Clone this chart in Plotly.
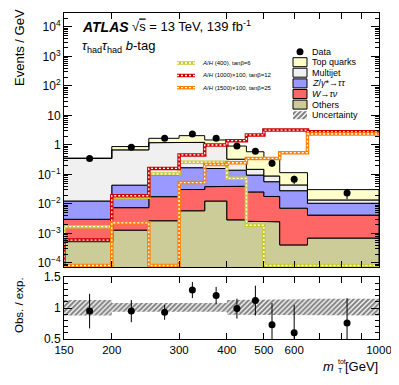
import numpy as np
import plotly.graph_objects as go

# window size and the page's default 8px body margin
W, H = 399, 385
OX, OY = 8, 8
FW, FH = W - OX, H - OY

# bin edges of m_T^tot [GeV]
edges = [150, 200, 250, 300, 350, 400, 450, 500, 550, 650, 1000]

# background predictions, events / GeV (stacked bottom -> top)
others = [5.3e-4, 1.3e-3, 2.7e-3, 5.9e-3, 1.26e-2, 2.9e-3, 2.6e-3, 2.5e-3, 4.1e-4, 7.0e-4]
w_taunu = [2.5e-3, 6.2e-3, 1.5e-2, 2.5e-2, 2.6e-2, 3.7e-2, 2.3e-2, 1.55e-2, 6.8e-3, 3.5e-3]
z_tautau = [9.6e-3, 3.6e-2, 7.8e-2, 0.139, 0.121, 0.10, 0.070, 0.039, 0.021, 0.0064]
multijet = [0.337, 0.64, 1.10, 1.06, 0.84, 0.19, 0.054, 0.032, 0.016, 0.0031]
top_quarks = [0.008, 0.20, 0.49, 0.84, 0.48, 0.59, 0.44, 0.24, 0.071, 0.017]

# signal hypotheses (0 = below the plotted range)
sig_400 = [1.7e-3, 1.7e-2, 0.104, 0.26, 0.26, 0.074, 1.9e-3, 0, 0, 0]
sig_1000 = [6.0e-4, 1.9e-2, 0.16, 0.46, 1.0, 1.4, 2.2, 3.2, 3.2, 2.8]
sig_1500 = [0, 2.3e-3, 0, 0.053, 0.22, 0.25, 0.35, 0.35, 0.55, 2.36]

# data
data = [0.35, 0.84, 1.69, 2.36, 1.69, 0.92, 0.61, 0.24, 0.069, 0.0236]
data_err = [0.06, 0.08, 0.12, 0.15, 0.13, 0.10, 0.09, 0.06, 0.022, 0.009]

# ratio panel
ratio = [0.95, 0.95, 0.93, 1.29, 1.20, 0.99, 1.12, 0.73, 0.60, 0.76]
ratio_err = [0.28, 0.18, 0.12, 0.13, 0.14, 0.16, 0.24, 0.35, 0.45, 0.40]
unc_up = [0.13, 0.08, 0.08, 0.08, 0.08, 0.13, 0.13, 0.14, 0.14, 0.15]
unc_dn = [0.12, 0.06, 0.06, 0.06, 0.06, 0.11, 0.11, 0.11, 0.11, 0.12]

FONT = "Liberation Sans, Arial, Helvetica, sans-serif"
YLOG = [-4.136, 4.464]
ylow = 10 ** (YLOG[0] + 0.05)
HATCH = dict(shape="/", fgcolor="black", bgcolor="white", size=3.5, solidity=0.6)


def steps(vals):
    xs, ys = [], []
    for i, v in enumerate(vals):
        xs += [edges[i], edges[i + 1]]
        ys += [v, v]
    return xs, ys


# screen pixel -> paper coordinates
def px(x):
    return (x - OX) / FW


def py(y):
    return 1 - (y - OY) / FH


fig = go.Figure()

# stacked backgrounds as filled step polygons
stack = [
    (others, "#cccc99"),
    (w_taunu, "#ff6666"),
    (z_tautau, "#9999ff"),
    (multijet, "#f0f0f0"),
    (top_quarks, "#ffffcc"),
]
lower = np.full(len(data), 1e-6)
for vals, col in stack:
    upper = np.where(lower < 1e-5, 0, lower) + np.array(vals)
    xs, yu = steps(upper)
    _, yl = steps(lower)
    fig.add_trace(go.Scatter(x=xs + xs[::-1], y=yu + yl[::-1], fill="toself",
                             fillcolor=col, mode="lines",
                             line=dict(color="black", width=1),
                             xaxis="x", yaxis="y", showlegend=False, hoverinfo="skip"))
    lower = upper

# signal overlays (thick coloured line with white dots)
signals = [(sig_400, "#c8c832"), (sig_1000, "#cc0000"), (sig_1500, "#ff7f00")]
for vals, col in signals:
    v = np.maximum(np.array(vals, dtype=float), ylow)
    xs, ys = steps(v)
    xs = [edges[0]] + xs
    ys = [ylow] + ys
    fig.add_trace(go.Scatter(x=xs, y=ys, mode="lines", line=dict(color=col, width=3.5),
                             xaxis="x", yaxis="y", showlegend=False, hoverinfo="skip"))
    fig.add_trace(go.Scatter(x=xs, y=ys, mode="lines",
                             line=dict(color="white", width=1.3, dash="2px,2px"),
                             xaxis="x", yaxis="y", showlegend=False, hoverinfo="skip"))

centres = [(edges[i] + edges[i + 1]) / 2 for i in range(len(data))]

fig.add_trace(go.Scatter(x=centres, y=data, mode="markers",
                         marker=dict(color="black", size=7),
                         error_y=dict(type="data", array=data_err, color="black",
                                      thickness=1, width=0),
                         xaxis="x", yaxis="y", showlegend=False))

# ratio panel: hatched uncertainty band
up = [1 + u for u in unc_up]
dn = [1 - d for d in unc_dn]
xs, yu = steps(up)
_, yd = steps(dn)
fig.add_trace(go.Scatter(x=xs + xs[::-1], y=yu + yd[::-1], fill="toself",
                         fillcolor="rgba(0,0,0,0)", mode="lines", line=dict(width=0),
                         fillpattern=HATCH,
                         xaxis="x2", yaxis="y2", showlegend=False, hoverinfo="skip"))
fig.add_trace(go.Scatter(x=centres, y=ratio, mode="markers",
                         marker=dict(color="black", size=7),
                         error_y=dict(type="data", array=ratio_err, color="black",
                                      thickness=1, width=0),
                         xaxis="x2", yaxis="y2", showlegend=False))

# ---- hand-drawn legend on a pixel overlay axis ----
legend_y = [51.7, 62.2, 72.7, 83.4, 94.0, 104.6, 115.2]
legend_txt = ["Data", "Top quarks", "Multijet",
              "<i>Z</i>/<i>γ</i>*→<i>ττ</i>", "<i>W</i>→<i>τν</i>", "Others", "Uncertainty"]
box_cols = [None, "#ffffcc", "#f0f0f0", "#9999ff", "#ff6666", "#cccc99", "hatch"]
bx0, bx1 = 293, 307
for yy, col in zip(legend_y, box_cols):
    if col is None:
        fig.add_trace(go.Scatter(x=[(bx0 + bx1) / 2], y=[yy], mode="markers",
                                 marker=dict(color="black", size=7),
                                 xaxis="x3", yaxis="y3", showlegend=False, hoverinfo="skip"))
    elif col == "hatch":
        fig.add_trace(go.Scatter(x=[bx0, bx1, bx1, bx0, bx0],
                                 y=[yy - 4, yy - 4, yy + 4, yy + 4, yy - 4],
                                 fill="toself", fillcolor="rgba(0,0,0,0)", mode="lines",
                                 line=dict(width=0), fillpattern=HATCH,
                                 xaxis="x3", yaxis="y3", showlegend=False, hoverinfo="skip"))
    else:
        fig.add_trace(go.Scatter(x=[bx0, bx1, bx1, bx0, bx0],
                                 y=[yy - 4.5, yy - 4.5, yy + 4.5, yy + 4.5, yy - 4.5],
                                 fill="toself", fillcolor=col, mode="lines",
                                 line=dict(color="black", width=1),
                                 xaxis="x3", yaxis="y3", showlegend=False, hoverinfo="skip"))

sig_legend_y = [63.0, 75.5, 87.7]
sig_txt = ["<i>A</i>/<i>H</i> (400), tanβ=6",
           "<i>A</i>/<i>H</i> (1000)×100, tanβ=12",
           "<i>A</i>/<i>H</i> (1500)×100, tanβ=25"]
for yy, (vals, col) in zip(sig_legend_y, signals):
    fig.add_trace(go.Scatter(x=[177, 195], y=[yy, yy], mode="lines",
                             line=dict(color=col, width=3.5),
                             xaxis="x3", yaxis="y3", showlegend=False, hoverinfo="skip"))
    fig.add_trace(go.Scatter(x=[177, 195], y=[yy, yy], mode="lines",
                             line=dict(color="white", width=1.3, dash="2px,2px"),
                             xaxis="x3", yaxis="y3", showlegend=False, hoverinfo="skip"))

ann = []
for yy, t in zip(legend_y, legend_txt):
    ann.append(dict(x=px(310), y=py(yy), text=t, xanchor="left", yanchor="middle",
                    font=dict(size=9)))
for yy, t in zip(sig_legend_y, sig_txt):
    ann.append(dict(x=px(200), y=py(yy), text=t, xanchor="left", yanchor="middle",
                    font=dict(size=6)))

ann += [
    dict(x=px(80), y=py(27), text="<b><i>ATLAS</i></b>", xanchor="left", yanchor="middle",
         font=dict(size=14)),
    dict(x=px(130), y=py(26), text="√<span style='text-decoration:overline'>s</span> = 13 TeV, 139 fb<sup>-1</sup>",
         xanchor="left", yanchor="middle", font=dict(size=13)),
    dict(x=px(80), y=py(46), text="<i>τ</i><sub>had</sub><i>τ</i><sub>had</sub> <i>b</i>-tag",
         xanchor="left", yanchor="middle", font=dict(size=13)),
    dict(x=px(19), y=py(48), text="Events / GeV", textangle=-90, xanchor="center",
         yanchor="middle", font=dict(size=13)),
    dict(x=px(19), y=py(305), text="Obs. / exp.", textangle=-90, xanchor="center",
         yanchor="middle", font=dict(size=11.5)),
    dict(x=px(336), y=py(366), text="<i>m</i>", xanchor="right", yanchor="middle",
         font=dict(size=13)),
    dict(x=px(336), y=py(361), text="tot", xanchor="left", yanchor="middle",
         font=dict(size=7)),
    dict(x=px(336), y=py(370), text="T", xanchor="left", yanchor="middle",
         font=dict(size=7)),
    dict(x=px(380), y=py(366), text="[GeV]", xanchor="right", yanchor="middle",
         font=dict(size=13)),
]
for a in ann:
    a.update(xref="paper", yref="paper", showarrow=False)

ymaj = [10.0 ** n for n in range(-4, 5)]
ytxt = ["10<sup>−4</sup>", "10<sup>−3</sup>", "10<sup>−2</sup>", "10<sup>−1</sup>", "1", "10",
        "10<sup>2</sup>", "10<sup>3</sup>", "10<sup>4</sup>"]
ymin_vals = [k * 10.0 ** n for n in range(-5, 5) for k in range(2, 10)]

xtick = [150, 200, 300, 400, 500, 600, 700, 800, 900, 1000]
xtxt = ["150", "200", "300", "400", "500", "600", "", "", "", "1000"]

xdom = [px(64), px(379)]
common_x = dict(type="log", range=[np.log10(150), np.log10(1000)], domain=xdom,
                showline=True, linecolor="black", linewidth=1, mirror="allticks",
                ticks="inside", ticklen=6, tickcolor="black", tickvals=xtick,
                showgrid=False, zeroline=False, automargin=False)

fig.update_layout(
    width=FW, height=FH,
    margin=dict(l=0, r=0, t=0, b=0, pad=0, autoexpand=False),
    paper_bgcolor="white", plot_bgcolor="rgba(0,0,0,0)",
    font=dict(family=FONT, color="black"),
    showlegend=False,
    xaxis=dict(common_x, anchor="y", showticklabels=False),
    yaxis=dict(type="log", range=YLOG, domain=[py(267), py(13.3)], anchor="x",
               showline=True, linecolor="black", linewidth=1, mirror="allticks",
               ticks="inside", ticklen=8, tickcolor="black",
               tickvals=ymaj, ticktext=ytxt, tickfont=dict(size=12),
               minor=dict(tickvals=ymin_vals, ticks="inside", ticklen=4, tickcolor="black"),
               showgrid=False, zeroline=False, automargin=False),
    xaxis2=dict(common_x, anchor="y2", matches="x", ticktext=xtxt,
                tickfont=dict(size=11.5)),
    yaxis2=dict(range=[0.5, 1.5], domain=[py(339), py(277)], anchor="x2",
                showline=True, linecolor="black", linewidth=1, mirror="allticks",
                ticks="inside", ticklen=8, tickcolor="black",
                tickvals=[0.5, 1, 1.5], ticktext=["0.5", "1", "1.5"], tickfont=dict(size=12),
                minor=dict(dtick=0.1, ticks="inside", ticklen=4, tickcolor="black"),
                showgrid=False, zeroline=False, automargin=False),
    xaxis3=dict(domain=[0, 1], range=[OX, W], anchor="y3", visible=False, fixedrange=True),
    yaxis3=dict(domain=[0, 1], range=[H, OY], anchor="x3", visible=False, fixedrange=True),
    annotations=ann,
)

fig.write_html("out.html")
